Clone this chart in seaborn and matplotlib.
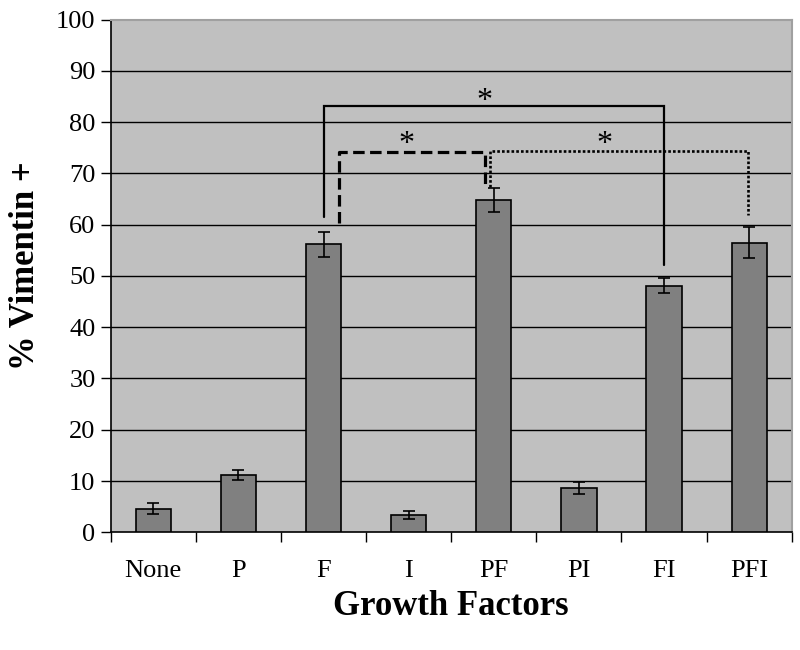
import numpy as np
import pandas as pd
import matplotlib
matplotlib.use('Agg')
import matplotlib.pyplot as plt
import seaborn as sns

# Data
factors = ['None', 'P', 'F', 'I', 'PF', 'PI', 'FI', 'PFI']
vimentin = [4.6, 11.2, 56.2, 3.3, 64.8, 8.7, 48.1, 56.5]
errors = [1.05, 1.0, 2.45, 0.8, 2.35, 1.15, 1.5, 3.1]

# significance brackets: (left x, right x, top y, left foot y, right foot y, star x, star y, style)
brackets = [
    (2.0, 6.0, 83.1, 61.4, 52.1, 3.89, 84.0, 'solid'),
    (2.18, 3.895, 74.2, 60.3, 67.5, 2.97, 75.6, 'dashed'),
    (3.957, 6.99, 74.4, 67.3, 61.9, 5.30, 75.6, 'dotted'),
]

df = pd.DataFrame({'factor': factors, 'value': vimentin})

sns.set_style('white')
plt.rcParams['font.family'] = ['Liberation Serif', 'DejaVu Serif']
plt.rcParams['text.color'] = 'black'
plt.rcParams['axes.labelcolor'] = 'black'
plt.rcParams['xtick.color'] = 'black'
plt.rcParams['ytick.color'] = 'black'

fig = plt.figure(figsize=(8, 6.5), dpi=100)
ax = fig.add_axes([0.1384, 0.1811, 0.8513, 0.7889])
ax.set_facecolor('#C0C0C0')

sns.barplot(data=df, x='factor', y='value', color='#808080', saturation=1,
            width=0.415, edgecolor='black', linewidth=1.2, ax=ax, zorder=3)
ax.errorbar(np.arange(len(factors)), vimentin, yerr=errors, fmt='none',
            ecolor='black', elinewidth=1.2, capsize=4, capthick=1.2, zorder=4)

# horizontal gridlines
for y in range(10, 100, 10):
    ax.axhline(y, color='black', lw=1.0, zorder=1)

styles = {'solid': dict(ls='-', lw=1.6),
          'dashed': dict(ls=(0, (3.6, 1.7)), lw=2.3),
          'dotted': dict(ls=(0, (1, 0.8)), lw=1.9)}
for x0, x1, top, y0, y1, sx, sy, st in brackets:
    ax.plot([x0, x0, x1, x1], [y0, top, top, y1], color='black',
            solid_joinstyle='miter', zorder=5, **styles[st])
    ax.text(sx, sy, '*', ha='center', va='center', fontsize=23, zorder=6)

ax.set_xlim(-0.5, len(factors) - 0.5)
ax.set_ylim(0, 100)
ax.set_yticks(range(0, 101, 10))
ax.tick_params(axis='y', labelsize=19, length=7, width=1, direction='out',
               left=True, pad=4)
ax.set_xticks(np.arange(-0.5, len(factors)), minor=True)
ax.tick_params(axis='x', which='minor', length=7, width=1, direction='out', bottom=True)
ax.tick_params(axis='x', which='major', length=0, labelsize=19, pad=20)

for side in ['left', 'bottom']:
    ax.spines[side].set_color('black')
    ax.spines[side].set_linewidth(1.2)
for side in ['top', 'right']:
    ax.spines[side].set_color('#A0A0A0')
    ax.spines[side].set_linewidth(1.5)

ax.set_xlabel('Growth Factors', fontsize=25, fontweight='bold', labelpad=6)
ax.set_ylabel('% Vimentin +', fontsize=25, fontweight='bold')
ax.yaxis.set_label_coords(-0.101, 0.52)

fig.savefig('out.png', dpi=100)
